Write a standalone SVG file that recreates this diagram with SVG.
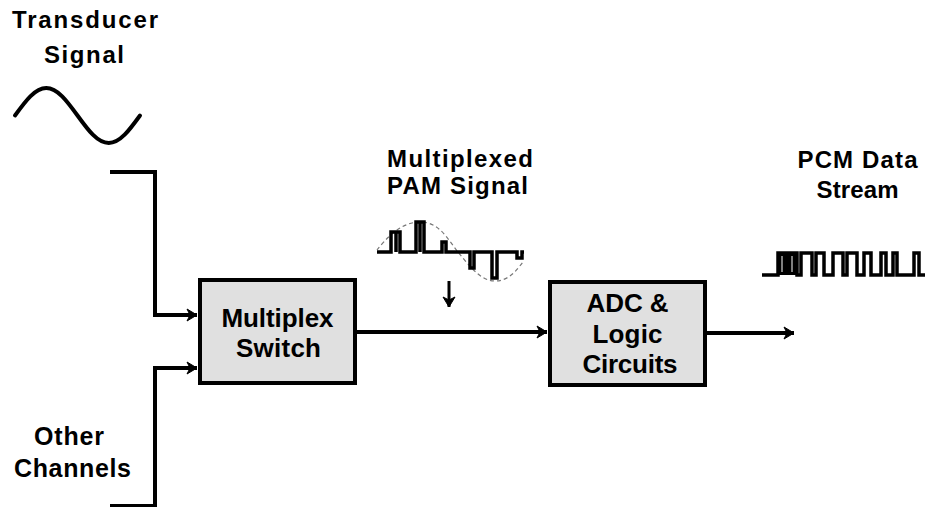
<svg xmlns="http://www.w3.org/2000/svg" width="931" height="507" viewBox="0 0 931 507">
<defs>
<style>
.t{font-family:"Liberation Sans",Arial,sans-serif;font-weight:bold;fill:#000;text-anchor:middle}
.lbl{font-size:24px}
.box{font-size:26px}
.oth{font-size:25px}
.conn{fill:none;stroke:#000;stroke-width:4}
.blk{fill:#e0e0e0;stroke:#000;stroke-width:4}
.wave{fill:none;stroke:#000;stroke-width:3.5;stroke-linejoin:miter}
</style>
<marker id="arr" markerUnits="userSpaceOnUse" markerWidth="14" markerHeight="14" viewBox="-12 -7 14 14" refX="0" refY="0" orient="auto">
<path d="M0,0 L-10,-6 L-7,0 L-10,6 Z" fill="#000" stroke="#000" stroke-width="1"/>
</marker>
</defs>
<rect width="931" height="507" fill="#fff"/>

<g id="transducer">
<text class="t lbl" x="85" y="28" textLength="146">Transducer</text>
<text class="t lbl" x="84" y="63" textLength="80">Signal</text>
<path d="M15,115.5 C25.45,101.05 35,88 46.25,88 C57.5,88 67.05,101.05 77.5,115.5 C87.95,129.95 97.5,143 108.75,143 C120,143 129.55,129.95 140,115.5" fill="none" stroke="#000" stroke-width="4" stroke-linecap="round"/>
</g>

<g id="other-channels">
<text class="t oth" x="69" y="445" textLength="70">Other</text>
<text class="t oth" x="72.5" y="477" textLength="117">Channels</text>
</g>

<g id="multiplex-switch">
<rect class="blk" x="200" y="280" width="155" height="103"/>
<text class="t box" x="277.5" y="327" textLength="112">Multiplex</text>
<text class="t box" x="278.5" y="357" textLength="85">Switch</text>
</g>

<g id="pam-signal">
<text class="t lbl" x="460" y="167" textLength="146">Multiplexed</text>
<text class="t lbl" x="457.5" y="194" textLength="141">PAM Signal</text>
<path d="M377,250 C385,240 400,222 420,222 C440,222 448,240 458,252 C468,264 480,281 495,281 C510,281 518,268 523,262" fill="none" stroke="#777" stroke-width="1.2" stroke-dasharray="4,3"/>
<path class="wave" d="M377,252 H391 V232 H396 V252 M396,252 V232 H400 V252 H416 V222 H420 V252 M420,252 V222 H424 V252 H442 V242 H446 V252 H470 V268 H474 V252 H492 V278 H497 V252 H517 V258 H522 V252 H524"/>
</g>

<g id="adc-logic">
<rect class="blk" x="550" y="282" width="155" height="103"/>
<text class="t box" x="627.5" y="312" textLength="82">ADC &amp;</text>
<text class="t box" x="627.5" y="343" textLength="70">Logic</text>
<text class="t box" x="630" y="373" textLength="95">Circuits</text>
</g>

<g id="pcm-stream">
<text class="t lbl" x="857.5" y="168" textLength="120">PCM Data</text>
<text class="t lbl" x="857.5" y="198" textLength="82">Stream</text>
<rect x="778" y="253" width="19" height="22" fill="#000"/>
<line x1="782" y1="256" x2="782" y2="272" stroke="#fff" stroke-width="1"/>
<line x1="792" y1="256" x2="792" y2="272" stroke="#fff" stroke-width="1"/>
<path class="wave" d="M762,275 H778 V253 H797 V275 H801 V253 H812 V275 H816 V253 H824 V275 H833 V253 H843 V275 H847 V253 H857 V275 H864 V253 H871 V275 H881 V253 H886 V275 H893 V253 H897 V275 H914 V253 H919 V275 H925"/>
</g>

<g id="connectors">
<path class="conn" d="M110,172 H155 V315 H197" marker-end="url(#arr)"/>
<path class="conn" d="M110,506 H155 V368 H197" marker-end="url(#arr)"/>
<path class="conn" d="M357,332 H547" marker-end="url(#arr)"/>
<path class="conn" d="M707,333 H794" marker-end="url(#arr)"/>
<path d="M449,281 V307" fill="none" stroke="#000" stroke-width="3" marker-end="url(#arr)"/>
</g>
</svg>
